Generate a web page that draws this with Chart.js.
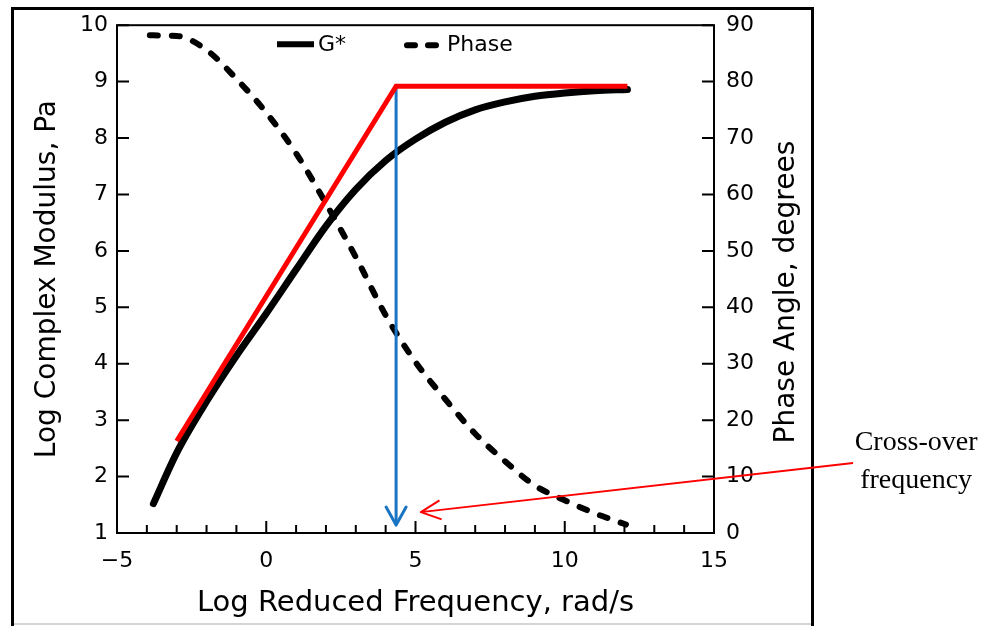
<!DOCTYPE html>
<html>
<head>
<meta charset="utf-8">
<title>G* and phase angle master curve</title>
<script src="https://cdn.jsdelivr.net/npm/chart.js@4.4.1/dist/chart.umd.min.js"></script>
<style>
  html, body { margin: 0; padding: 0; background: #fff; }
  #wrap { position: relative; width: 987px; height: 626px; overflow: hidden; }
  #frame { position: absolute; left: 11px; top: 7px; width: 803px; height: 660px; border: 3px solid #000; box-sizing: border-box; z-index: 0; }
  #base { position: absolute; left: 14px; top: 623px; width: 797px; height: 2px; background: #d4d4d4; z-index: 0; }
  #chart { position: absolute; left: 0; top: 0; z-index: 1; }
</style>
</head>
<body>
<div id="wrap">
  <div id="frame"></div>
  <div id="base"></div>
  <canvas id="chart" width="987" height="626"></canvas>
</div>
<script>
// values
const gFreq = [-3.78, -3, -2, -1, 0, 1, 2, 3, 4, 5, 6, 7, 8, 9, 10, 11, 12.1];
const gLogModulus = [1.52, 2.42, 3.33, 4.14, 4.89, 5.67, 6.44, 7.09, 7.6, 7.98, 8.28, 8.5, 8.64, 8.74, 8.8, 8.84, 8.86];

const phaseFreq = [-3.9, -3, -2, -1, 0, 1, 2, 3, 4, 5, 6, 7, 8, 9, 10, 11, 12.05];
const phaseAngle = [88.2, 88.1, 85.6, 80.5, 74.5, 67.3, 58.4, 48.9, 38.6, 30.3, 23.7, 17.6, 12.7, 8.4, 5.8, 3.5, 1.5];

// red asymptote lines and blue cross-over drop
const tangentFreq = [-3.0, 4.35, 12.1];
const tangentLogModulus = [2.63, 8.92, 8.92];
const crossFreq = [4.35, 4.35];
const crossLogModulus = [8.92, 1.14];

// annotation arrow (tip, tail) in data units
const noteTip = [5.18, 1.37];
const noteTail = [19.66, 2.24];
const noteLines = ['Cross-over', 'frequency'];

const xLabelValues = [-5, 0, 5, 10, 15];

const blue = '#1a74c4';
const font = 'DejaVu Sans';

function pts(xs, ys) {
	return xs.map((v, i) => ({ x: v, y: ys[i] }));
}

const decorations = {
	id: 'decorations',
	afterDraw(chart) {
		const { ctx, chartArea: a, scales: { x, y, y2 } } = chart;
		ctx.save();

		// plot box and inward ticks
		ctx.strokeStyle = '#000';
		ctx.lineWidth = 2;
		ctx.lineCap = 'butt';
		ctx.strokeRect(a.left, a.top, a.right - a.left, a.bottom - a.top);
		ctx.beginPath();
		x.ticks.forEach(t => {
			const px = x.getPixelForValue(t.value);
			const len = t.value % 5 === 0 ? 12 : 8;
			ctx.moveTo(px, a.bottom);
			ctx.lineTo(px, a.bottom - len);
		});
		y.ticks.forEach(t => {
			const py = y.getPixelForValue(t.value);
			ctx.moveTo(a.left, py);
			ctx.lineTo(a.left + 12, py);
		});
		y2.ticks.forEach(t => {
			const py = y2.getPixelForValue(t.value);
			ctx.moveTo(a.right, py);
			ctx.lineTo(a.right - 12, py);
		});
		ctx.stroke();

		// legend inside the plot
		const ly = a.top + 19;
		ctx.lineWidth = 6;
		ctx.beginPath();
		ctx.moveTo(a.left + 160, ly);
		ctx.lineTo(a.left + 197, ly);
		ctx.stroke();
		ctx.lineCap = 'round';
		ctx.setLineDash([8, 13]);
		ctx.beginPath();
		ctx.moveTo(a.left + 290, ly + 1);
		ctx.lineTo(a.left + 320, ly + 1);
		ctx.stroke();
		ctx.setLineDash([]);
		ctx.fillStyle = '#000';
		ctx.font = '22px "' + font + '"';
		ctx.textBaseline = 'middle';
		ctx.textAlign = 'left';
		ctx.fillText('G*', a.left + 201, ly + 1);
		ctx.fillText('Phase', a.left + 330, ly + 1);

		// right axis title, read bottom to top
		ctx.save();
		ctx.translate(y2.left + 73, (a.top + a.bottom) / 2 + 13);
		ctx.rotate(-Math.PI / 2);
		ctx.font = '28px "' + font + '"';
		ctx.textAlign = 'center';
		ctx.fillText('Phase Angle, degrees', 0, 0);
		ctx.restore();

		// arrow head on the blue drop line
		const bx = x.getPixelForValue(crossFreq[1]);
		const by = y.getPixelForValue(crossLogModulus[1]);
		ctx.strokeStyle = blue;
		ctx.lineWidth = 3;
		ctx.lineJoin = 'round';
		ctx.beginPath();
		ctx.moveTo(bx - 10, by - 18);
		ctx.lineTo(bx, by);
		ctx.lineTo(bx + 10, by - 18);
		ctx.stroke();

		// cross-over note
		const tx = x.getPixelForValue(noteTip[0]), ty = y.getPixelForValue(noteTip[1]);
		const sx = x.getPixelForValue(noteTail[0]), sy = y.getPixelForValue(noteTail[1]);
		const ang = Math.atan2(sy - ty, sx - tx);
		ctx.strokeStyle = '#ff0000';
		ctx.lineWidth = 2;
		ctx.lineCap = 'butt';
		ctx.beginPath();
		ctx.moveTo(sx, sy);
		ctx.lineTo(tx, ty);
		ctx.moveTo(tx + 22 * Math.cos(ang - 0.45), ty + 22 * Math.sin(ang - 0.45));
		ctx.lineTo(tx, ty);
		ctx.lineTo(tx + 22 * Math.cos(ang + 0.45), ty + 22 * Math.sin(ang + 0.45));
		ctx.stroke();
		ctx.fillStyle = '#000';
		ctx.font = '28px "Liberation Serif"';
		ctx.textAlign = 'center';
		ctx.textBaseline = 'alphabetic';
		ctx.fillText(noteLines[0], sx + 63, sy - 13);
		ctx.fillText(noteLines[1], sx + 63, sy + 25);

		ctx.restore();
	}
};

window.masterChart = new Chart(document.getElementById('chart').getContext('2d'), {
	type: 'line',
	data: {
		datasets: [
			{
				label: 'Cross-over',
				data: pts(crossFreq, crossLogModulus),
				borderColor: blue,
				borderWidth: 3,
				pointRadius: 0,
				yAxisID: 'y',
				order: 1
			},
			{
				label: 'Tangents',
				data: pts(tangentFreq, tangentLogModulus),
				borderColor: '#ff0000',
				borderWidth: 5,
				pointRadius: 0,
				yAxisID: 'y',
				order: 0
			},
			{
				label: 'G*',
				data: pts(gFreq, gLogModulus),
				borderColor: '#000',
				borderWidth: 7,
				borderCapStyle: 'round',
				cubicInterpolationMode: 'monotone',
				pointRadius: 0,
				yAxisID: 'y',
				order: 3
			},
			{
				label: 'Phase',
				data: pts(phaseFreq, phaseAngle),
				borderColor: '#000',
				borderWidth: 6,
				borderDash: [8, 14],
				borderCapStyle: 'round',
				cubicInterpolationMode: 'monotone',
				pointRadius: 0,
				yAxisID: 'y2',
				order: 2
			}
		]
	},
	options: {
		responsive: false,
		animation: false,
		devicePixelRatio: 1,
		layout: { padding: { left: 14, top: 24, right: 173, bottom: 0 } },
		plugins: {
			legend: { display: false },
			tooltip: { enabled: false }
		},
		scales: {
			x: {
				type: 'linear',
				min: -5,
				max: 15,
				grid: { display: false, drawTicks: false },
				border: { display: false },
				afterFit: s => { s.height = 93; },
				ticks: {
					stepSize: 1,
					autoSkip: false,
					maxRotation: 0,
					padding: 15,
					color: '#000',
					font: { family: font, size: 22 },
					callback: v => xLabelValues.includes(v) ? (v < 0 ? '\u2212' + Math.abs(v) : String(v)) : ''
				},
				title: {
					display: true,
					text: 'Log Reduced Frequency, rad/s',
					color: '#000',
					font: { family: font, size: 29 },
					padding: { top: 0, bottom: 5 }
				}
			},
			y: {
				position: 'left',
				min: 1,
				max: 10,
				grid: { display: false, drawTicks: false },
				border: { display: false },
				afterFit: s => { s.width = 103; },
				ticks: {
					stepSize: 1,
					padding: 9,
					color: '#000',
					font: { family: font, size: 22 }
				},
				title: {
					display: true,
					text: 'Log Complex Modulus, Pa',
					color: '#000',
					font: { family: font, size: 28 },
					padding: { top: 17, bottom: 0 }
				}
			},
			y2: {
				position: 'right',
				min: 0,
				max: 90,
				grid: { display: false, drawTicks: false },
				border: { display: false },
				afterFit: s => { s.width = 100; },
				ticks: {
					stepSize: 10,
					padding: 12,
					color: '#000',
					font: { family: font, size: 22 }
				}
			}
		}
	},
	plugins: [decorations]
});
</script>
</body>
</html>
